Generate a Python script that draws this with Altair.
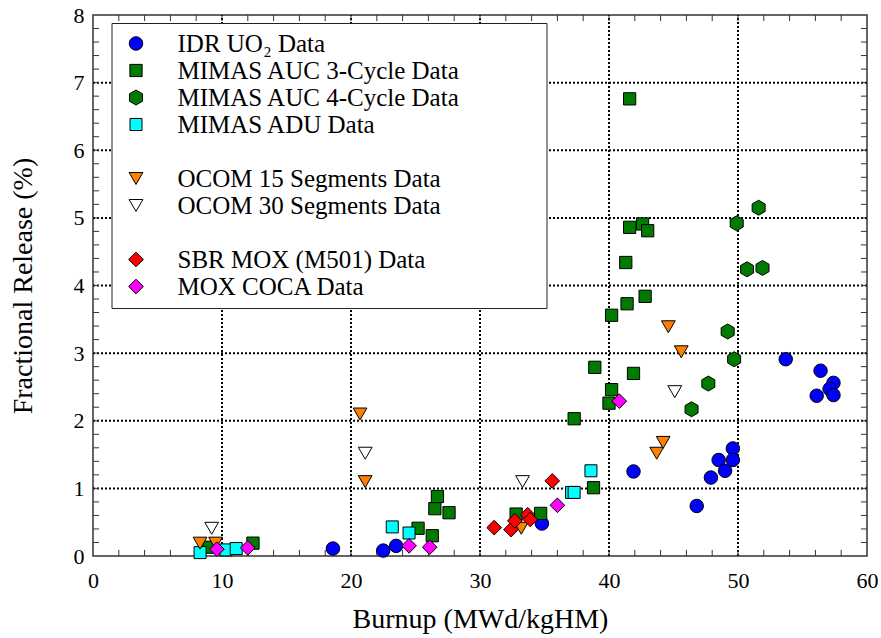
import altair as alt
import pandas as pd

FONT = "Liberation Serif"

# ---- series names ----
IDR = "IDR UO\u2082 Data"
AUC3 = "MIMAS AUC 3-Cycle Data"
AUC4 = "MIMAS AUC 4-Cycle Data"
ADU = "MIMAS ADU Data"
OC15 = "OCOM 15 Segments Data"
OC30 = "OCOM 30 Segments Data"
SBR = "SBR MOX (M501) Data"
COCA = "MOX COCA Data"

# ---- data (burnup MWd/kgHM, fractional release %) ----
idr_x = [18.6, 22.5, 23.5, 34.8, 41.9, 46.8, 47.9, 48.5, 49.0, 49.6, 49.6, 53.7, 56.4, 57.4, 57.1, 56.1, 57.4]
idr_y = [0.11, 0.08, 0.15, 0.48, 1.25, 0.74, 1.16, 1.42, 1.26, 1.59, 1.42, 2.91, 2.74, 2.56, 2.47, 2.37, 2.38]

auc3_x = [9.0, 12.4, 25.2, 26.3, 26.5, 26.7, 27.6, 32.8, 34.7, 37.3, 38.8, 38.9, 40.0, 40.2, 40.2, 41.3, 41.4, 41.6, 41.6, 41.9, 42.6, 42.8, 43.0]
auc3_y = [0.13, 0.19, 0.41, 0.30, 0.70, 0.88, 0.64, 0.62, 0.63, 2.03, 1.01, 2.79, 2.26, 2.46, 3.56, 4.34, 3.73, 4.86, 6.76, 2.70, 4.91, 3.84, 4.81]

auc4_x = [46.4, 47.7, 49.2, 49.7, 49.9, 50.7, 51.6, 51.9]
auc4_y = [2.17, 2.55, 3.32, 2.91, 4.92, 4.24, 5.15, 4.26]

adu_x = [8.3, 10.3, 11.1, 23.2, 24.5, 37.1, 37.3, 38.6]
adu_y = [0.05, 0.09, 0.11, 0.43, 0.34, 0.94, 0.94, 1.26]

oc15_x = [8.3, 9.5, 20.7, 21.1, 33.2, 43.7, 44.2, 44.6, 45.6]
oc15_y = [0.19, 0.19, 2.10, 1.10, 0.41, 1.52, 1.68, 3.39, 3.02]

oc30_x = [9.2, 21.1, 33.3, 45.1]
oc30_y = [0.41, 1.52, 1.10, 2.43]

sbr_x = [31.1, 32.4, 32.7, 33.7, 33.9, 35.6]
sbr_y = [0.42, 0.39, 0.52, 0.61, 0.54, 1.11]

coca_x = [9.6, 12.0, 24.5, 26.1, 36.0, 40.8]
coca_y = [0.10, 0.12, 0.15, 0.13, 0.75, 2.29]

# ---- axis ticks / grid ----
x_labels = [0, 10, 20, 30, 40, 50, 60]
y_labels = [0, 1, 2, 3, 4, 5, 6, 7, 8]
grid_x = [10, 20, 30, 40, 50]
grid_y = [1, 2, 3, 4, 5, 6, 7]
minor_x = [2, 4, 6, 8, 10, 12, 14, 16, 18, 20, 22, 24, 26, 28, 30, 32, 34, 36, 38, 40,
           42, 44, 46, 48, 50, 52, 54, 56, 58]
minor_y = [0.2, 0.4, 0.6, 0.8, 1.0, 1.2, 1.4, 1.6, 1.8, 2.0, 2.2, 2.4, 2.6, 2.8, 3.0, 3.2,
           3.4, 3.6, 3.8, 4.0, 4.2, 4.4, 4.6, 4.8, 5.0, 5.2, 5.4, 5.6, 5.8, 6.0, 6.2, 6.4,
           6.6, 6.8, 7.0, 7.2, 7.4, 7.6, 7.8]

# ---- legend styling per entry (two blank spacer entries) ----
legend_domain = [IDR, AUC3, AUC4, ADU, " ", OC15, OC30, "  ", SBR, COCA]
fill_range = ["#0000ff", "#007a00", "#007a00", "#00ffff", "transparent",
              "#ff7f00", "#ffffff", "transparent", "#ff0000", "#ff00ff"]
stroke_range = ["black", "black", "black", "black", "transparent",
                "black", "black", "transparent", "black", "black"]
HEX = "M0,-1L0.866,-0.5L0.866,0.5L0,1L-0.866,0.5L-0.866,-0.5Z"
shape_range = ["circle", "square", HEX, "square", "circle",
               "triangle-down", "triangle-down", "circle", "diamond", "diamond"]
size_range = [182, 150, 225, 144, 100, 190, 190, 100, 215, 215]

rows = []
for name, xs, ys in [(IDR, idr_x, idr_y), (AUC3, auc3_x, auc3_y), (AUC4, auc4_x, auc4_y),
                     (ADU, adu_x, adu_y), (OC15, oc15_x, oc15_y), (OC30, oc30_x, oc30_y),
                     (SBR, sbr_x, sbr_y), (COCA, coca_x, coca_y)]:
    for a, b in zip(xs, ys):
        rows.append({"series": name, "burnup": a, "release": b})
df = pd.DataFrame(rows)

xscale = alt.Scale(domain=[0, 60], nice=False, zero=False)
yscale = alt.Scale(domain=[0, 8], nice=False, zero=False)

xaxis = alt.Axis(title="Burnup (MWd/kgHM)", values=x_labels, ticks=False, domain=False,
                 grid=False, labelFont=FONT, labelFontSize=22, labelColor="black",
                 labelPadding=14, labelFlush=False, labelOverlap=False,
                 titleFont=FONT, titleFontSize=28, titleFontWeight="normal",
                 titleColor="black", titlePadding=14)
yaxis = alt.Axis(title="Fractional Release (%)", values=y_labels, ticks=False, domain=False,
                 grid=False, labelFont=FONT, labelFontSize=22, labelColor="black",
                 labelPadding=9, labelFlush=False, labelOverlap=False,
                 titleFont=FONT, titleFontSize=28, titleFontWeight="normal",
                 titleColor="black", titlePadding=36)

leg = alt.Legend(title="\u00a0", titleOrient="right", titlePadding=78, titleFontSize=8,
                 orient="none", legendX=18.5, legendY=8,
                 labelFont=FONT, labelFontSize=25, labelColor="black", labelLimit=1000,
                 symbolOffset=4, labelOffset=29, padding=8, rowPadding=1,
                 fillColor="white", strokeColor="#222222",
                 symbolOpacity=1, symbolStrokeWidth=1)

points = alt.Chart(df).mark_point(filled=True, opacity=1, strokeWidth=1).encode(
    x=alt.X("burnup:Q", scale=xscale, axis=xaxis),
    y=alt.Y("release:Q", scale=yscale, axis=yaxis),
    fill=alt.Fill("series:N", scale=alt.Scale(domain=legend_domain, range=fill_range), legend=leg),
    stroke=alt.Stroke("series:N", scale=alt.Scale(domain=legend_domain, range=stroke_range), legend=leg),
    shape=alt.Shape("series:N", scale=alt.Scale(domain=legend_domain, range=shape_range), legend=leg),
    size=alt.Size("series:N", scale=alt.Scale(type="ordinal", domain=legend_domain, range=size_range), legend=leg),
)

grid_style = dict(color="black", strokeDash=[2, 2], strokeWidth=2)

gx = alt.Chart(pd.DataFrame({"v": grid_x, "lo": 0, "hi": 8})).mark_rule(**grid_style).encode(
    x=alt.X("v:Q", scale=xscale, axis=xaxis),
    y=alt.Y("lo:Q", scale=yscale, axis=yaxis), y2="hi:Q")
gy = alt.Chart(pd.DataFrame({"v": grid_y, "lo": 0, "hi": 60})).mark_rule(**grid_style).encode(
    y=alt.Y("v:Q", scale=yscale, axis=yaxis),
    x=alt.X("lo:Q", scale=xscale, axis=xaxis), x2="hi:Q")

tick_style = dict(color="#333333", strokeWidth=1)

def xticks(lo, hi):
    return alt.Chart(pd.DataFrame({"v": minor_x, "lo": lo, "hi": hi})).mark_rule(**tick_style).encode(
        x=alt.X("v:Q", scale=xscale, axis=xaxis),
        y=alt.Y("lo:Q", scale=yscale, axis=yaxis), y2="hi:Q")

def yticks(lo, hi):
    return alt.Chart(pd.DataFrame({"v": minor_y, "lo": lo, "hi": hi})).mark_rule(**tick_style).encode(
        y=alt.Y("v:Q", scale=yscale, axis=yaxis),
        x=alt.X("lo:Q", scale=xscale, axis=xaxis), x2="hi:Q")

chart = alt.layer(
    gx, gy,
    xticks(0, 0.09), xticks(8, 7.91),
    yticks(0, 0.47), yticks(60, 59.53),
    points,
).properties(
    width=774, height=541,
    autosize=alt.AutoSizeParams(type="none"),
    padding={"left": 93, "top": 15, "right": 14, "bottom": 82},
    background="white",
).configure_view(stroke="#333333", strokeWidth=1.5)

chart.save("out.html", embed_options={"renderer": "svg", "actions": False})
